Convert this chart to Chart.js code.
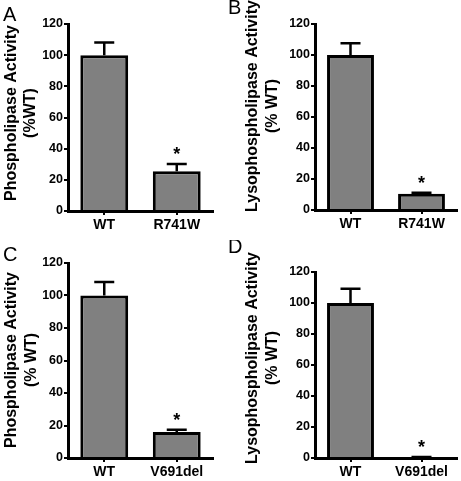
<!DOCTYPE html>
<html>
<head>
<meta charset="utf-8">
<script src="https://cdn.jsdelivr.net/npm/chart.js@4.4.1/dist/chart.umd.min.js"></script>
<style>
  html, body { margin: 0; padding: 0; background: #fff; }
  #wrap { position: relative; width: 461px; height: 481px; }
  canvas { position: absolute; }
</style>
</head>
<body>
<div id="wrap">
  <canvas id="chartA" width="226" height="240" style="left:0;top:0"></canvas>
  <canvas id="chartB" width="235" height="240" style="left:226px;top:0"></canvas>
  <canvas id="chartC" width="226" height="241" style="left:0;top:240px"></canvas>
  <canvas id="chartD" width="235" height="241" style="left:226px;top:240px"></canvas>
</div>
<script>
// data (mean and upper SEM, % of WT)
const labelsR741W = ['WT', 'R741W'];
const labelsV691del = ['WT', 'V691del'];

const phosphoR741W = [100, 25.5];
const phosphoR741WErr = [8.2, 4.6];
const lysoR741W = [100, 10.5];
const lysoR741WErr = [7.6, 0.6];

const phosphoV691del = [100, 16];
const phosphoV691delErr = [8.3, 1.4];
const lysoV691del = [100, 0.5];
const lysoV691delErr = [9.2, 0.2];

const significant = [false, true];
const yTicks = [0, 20, 40, 60, 80, 100, 120];

const FONT = '"Liberation Sans", Arial, sans-serif';

const decorPlugin = {
    id: 'decor',
    afterDatasetsDraw(chart, args, opts) {
        const ctx = chart.ctx;
        const y = chart.scales.y;
        const meta = chart.getDatasetMeta(0);
        const ds = chart.data.datasets[0];
        ctx.save();
        ctx.strokeStyle = '#000';
        ctx.lineWidth = 2.5;
        meta.data.forEach((bar, i) => {
            const top = y.getPixelForValue(ds.data[i] + opts.errors[i]);
            ctx.beginPath();
            ctx.moveTo(bar.x, bar.y);
            ctx.lineTo(bar.x, top);
            ctx.moveTo(bar.x - 10, top);
            ctx.lineTo(bar.x + 10, top);
            ctx.stroke();
            if (significant[i]) {
                ctx.fillStyle = '#000';
                ctx.font = 'bold 18px ' + FONT;
                ctx.textAlign = 'center';
                ctx.textBaseline = 'middle';
                ctx.fillText('*', bar.x, top - 9);
            }
        });

        // panel letter
        ctx.fillStyle = '#000';
        ctx.font = '20px ' + FONT;
        ctx.textAlign = 'left';
        ctx.textBaseline = 'alphabetic';
        ctx.fillText(opts.letter, opts.letterX, opts.letterY);

        // y axis title, two rotated lines
        ctx.font = 'bold 16px ' + FONT;
        ctx.textAlign = 'center';
        ctx.textBaseline = 'middle';
        opts.title.forEach((line, k) => {
            ctx.save();
            ctx.translate(opts.titleX[k], opts.titleY);
            ctx.rotate(-Math.PI / 2);
            ctx.fillText(line, 0, 0);
            ctx.restore();
        });
        ctx.restore();
    }
};

function makePanel(id, labels, values, errors, p) {
    const canvas = document.getElementById(id);
    return new Chart(canvas.getContext('2d'), {
        type: 'bar',
        data: {
            labels: labels,
            datasets: [{
                data: values,
                backgroundColor: '#808080',
                borderColor: '#000',
                borderWidth: 3,
                borderSkipped: 'start',
                barPercentage: 0.66,
                categoryPercentage: 1
            }]
        },
        options: {
            responsive: false,
            animation: false,
            layout: { padding: { top: p.top, right: canvas.width - p.right, left: 0, bottom: 0 } },
            scales: {
                x: {
                    grid: { display: true, drawOnChartArea: false, offset: false, color: '#000', lineWidth: 2, tickLength: 4 },
                    border: { color: '#000', width: 3 },
                    ticks: { color: '#000', font: { family: FONT, size: 14, weight: 'bold' }, padding: 2, maxRotation: 0 },
                    afterFit: s => { s.height = canvas.height - p.bottom; }
                },
                y: {
                    min: 0,
                    max: 120,
                    afterBuildTicks: s => { s.ticks = yTicks.map(v => ({ value: v })); },
                    grid: { display: true, drawOnChartArea: false, color: '#000', lineWidth: 2, tickLength: 4 },
                    border: { color: '#000', width: 3 },
                    ticks: { color: '#000', font: { family: FONT, size: 12.5, weight: 'bold' }, padding: 1 },
                    afterFit: s => { s.width = p.axisX; }
                }
            },
            plugins: {
                legend: { display: false },
                tooltip: { enabled: false },
                decor: {
                    errors: errors,
                    letter: p.letter, letterX: p.letterX, letterY: p.letterY,
                    title: p.title, titleX: p.titleX, titleY: p.titleY
                }
            }
        },
        plugins: [decorPlugin]
    });
}

makePanel('chartA', labelsR741W, phosphoR741W, phosphoR741WErr, {
    axisX: 68, top: 24, bottom: 211, right: 213,
    letter: 'A', letterX: 3, letterY: 21,
    title: ['Phospholipase Activity', '(%WT)'], titleX: [12, 31], titleY: 113
});
makePanel('chartB', labelsR741W, lysoR741W, lysoR741WErr, {
    axisX: 89, top: 24, bottom: 210, right: 231,
    letter: 'B', letterX: 2, letterY: 14,
    title: ['Lysophospholipase Activity', '(% WT)'], titleX: [27, 47], titleY: 106
});
makePanel('chartC', labelsV691del, phosphoV691del, phosphoV691delErr, {
    axisX: 68, top: 23, bottom: 218, right: 213,
    letter: 'C', letterX: 3, letterY: 21,
    title: ['Phospholipase Activity', '(% WT)'], titleX: [12, 32], titleY: 120
});
makePanel('chartD', labelsV691del, lysoV691del, lysoV691delErr, {
    axisX: 89, top: 32, bottom: 218, right: 231,
    letter: 'D', letterX: 2, letterY: 13,
    title: ['Lysophospholipase Activity', '(% WT)'], titleX: [27, 47], titleY: 118
});
</script>
</body>
</html>
